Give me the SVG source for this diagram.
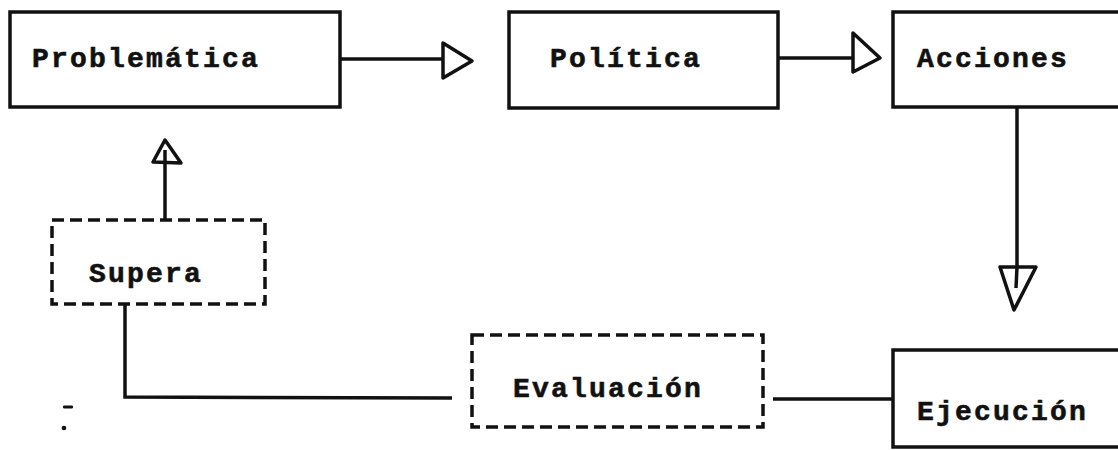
<svg xmlns="http://www.w3.org/2000/svg" width="1118" height="450" viewBox="0 0 1118 450">
  <style>
    .box { fill: #fff; stroke: #111; stroke-width: 3.5; }
    .dash { fill: none; stroke: #111; stroke-width: 3.5; stroke-dasharray: 12 6; }
    .lbl { font-family: "Liberation Mono", "Courier New", monospace; font-weight: bold; font-size: 28px; letter-spacing: 2.2px; fill: #111; stroke: #111; stroke-width: 0.6; }
    .wire { fill: none; stroke: #111; stroke-width: 3.5; }
    .head { fill: #fff; stroke: #111; stroke-width: 3.5; stroke-linejoin: round; }
  </style>
  <rect width="1118" height="450" fill="#fff"/>

  <!-- connectors -->
  <g id="connectors">
    <!-- Problemática -> Política -->
    <line class="wire" x1="340" y1="59" x2="448" y2="59"/>
    <polygon class="head" points="443,43 443,78 472,61"/>
    <!-- Política -> Acciones -->
    <line class="wire" x1="778" y1="58" x2="858" y2="58"/>
    <polygon class="head" points="853,33 853,72 880,58"/>
    <!-- Acciones -> Ejecución -->
    <line class="wire" x1="1017" y1="107" x2="1017" y2="272"/>
    <polygon class="head" points="1000,267 1036,267 1014,310"/>
    <line class="wire" x1="1017" y1="267" x2="1016" y2="288"/>
    <!-- Ejecución -> Evaluación -->
    <line class="wire" x1="773" y1="399" x2="893" y2="399"/>
    <!-- Evaluación -> Supera -->
    <polyline class="wire" points="452,398 125,397 125,305"/>
    <!-- Supera -> Problemática -->
    <line class="wire" x1="165" y1="220" x2="165" y2="158"/>
    <polygon class="head" points="165,140 153,162 181,163"/>
    <line class="wire" x1="165" y1="163" x2="165" y2="150"/>
  </g>

  <g id="problematica">
    <rect class="box" x="10" y="12" width="330" height="95"/>
    <text class="lbl" x="32" y="67">Problemática</text>
  </g>

  <g id="politica">
    <rect class="box" x="509" y="12" width="269" height="96"/>
    <text class="lbl" x="550" y="67">Política</text>
  </g>

  <g id="acciones">
    <rect class="box" x="893" y="12" width="240" height="95"/>
    <text class="lbl" x="917" y="67">Acciones</text>
  </g>

  <g id="ejecucion">
    <rect class="box" x="893" y="350" width="240" height="97"/>
    <text class="lbl" x="917" y="420">Ejecución</text>
  </g>

  <g id="evaluacion">
    <rect class="dash" x="472" y="335" width="291" height="92"/>
    <text class="lbl" x="513" y="397">Evaluación</text>
  </g>

  <g id="supera">
    <rect class="dash" x="52" y="220" width="213" height="84"/>
    <text class="lbl" x="89" y="282">Supera</text>
  </g>

  <!-- stray marks -->
  <g id="marks" fill="#111">
    <rect x="63" y="405.5" width="10" height="3" rx="1.2"/>
    <circle cx="64" cy="428" r="2.3"/>
  </g>
</svg>
